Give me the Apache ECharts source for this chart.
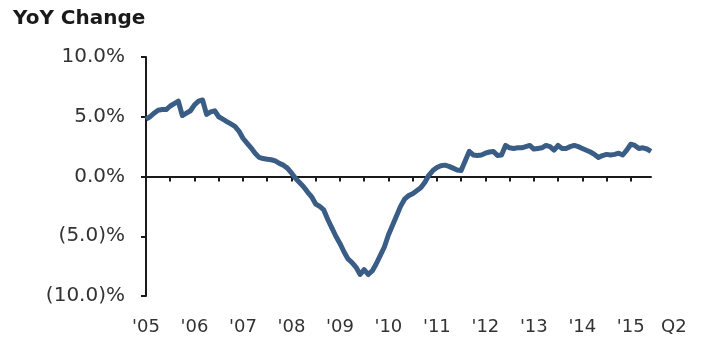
<!DOCTYPE html>
<html>
<head>
<meta charset="utf-8">
<title>YoY Change</title>
<script src="https://cdn.jsdelivr.net/npm/echarts@6/dist/echarts.min.js"></script>
<style>
  html, body { margin: 0; padding: 0; background: #fff; }
  #chart { width: 706px; height: 343px; }
</style>
</head>
<body>
<div id="chart"></div>
<script>
// year tick labels and the trailing quarter marker
var yearLabels = ["'05", "'06", "'07", "'08", "'09", "'10", "'11", "'12", "'13", "'14", "'15"];
var lastQuarter = 'Q2';
var firstYear = 2005;

// monthly YoY change (%), Jan 2005 .. Jun 2015
var yoy = [
  4.8, 5.0, 5.3, 5.55, 5.6, 5.6, 5.9, 6.1, 6.3, 5.1, 5.3, 5.5,        // 2005
  6.0, 6.3, 6.4, 5.2, 5.4, 5.5, 5.0, 4.8, 4.6, 4.4, 4.2, 3.8,         // 2006
  3.2, 2.8, 2.4, 1.95, 1.6, 1.5, 1.45, 1.4, 1.3, 1.1, 0.95, 0.7,      // 2007
  0.3, -0.15, -0.5, -0.85, -1.3, -1.7, -2.3, -2.5, -2.8, -3.6, -4.3, -5.0, // 2008
  -5.6, -6.3, -6.9, -7.2, -7.6, -8.2, -7.8, -8.2, -7.9, -7.3, -6.6, -5.9,  // 2009
  -4.9, -4.1, -3.3, -2.5, -1.9, -1.6, -1.45, -1.2, -0.95, -0.5, 0.1, 0.5,  // 2010
  0.75, 0.9, 0.95, 0.85, 0.7, 0.55, 0.5, 1.3, 2.1, 1.8, 1.75, 1.8,    // 2011
  1.95, 2.05, 2.1, 1.75, 1.8, 2.6, 2.4, 2.35, 2.4, 2.4, 2.5, 2.6,     // 2012
  2.3, 2.35, 2.4, 2.6, 2.5, 2.2, 2.6, 2.35, 2.35, 2.5, 2.6, 2.5,      // 2013
  2.35, 2.2, 2.05, 1.85, 1.6, 1.75, 1.85, 1.8, 1.85, 1.95, 1.8, 2.2,  // 2014
  2.7, 2.6, 2.35, 2.4, 2.3, 2.1                                       // 2015
];

// one category per month
var months = [];
for (var i = 0; i < yoy.length; i++) {
  var y = firstYear + Math.floor(i / 12);
  var m = (i % 12) + 1;
  months.push(y + '-' + (m < 10 ? '0' + m : m));
}

var fontFamily = 'DejaVu Sans, Verdana, sans-serif';

var chart = echarts.init(document.getElementById('chart'), null, { renderer: 'canvas' });

var option = {
  animation: false,
  title: {
    text: 'YoY Change',
    left: 8,
    top: 4,
    textStyle: { fontFamily: fontFamily, fontSize: 20, fontWeight: 'bold', color: '#1a1a1a' }
  },
  grid: { left: 146, right: 55, top: 57, bottom: 47 },
  xAxis: [
    {
      // the axis line that sits on zero, ticks every half year
      type: 'category',
      data: months,
      boundaryGap: false,
      axisLine: { onZero: true, lineStyle: { color: '#1a1a1a', width: 2 } },
      axisTick: { show: true, interval: 5, length: 5, lineStyle: { color: '#1a1a1a', width: 2 } },
      axisLabel: { show: false },
      splitLine: { show: false }
    },
    {
      // year labels along the bottom
      type: 'category',
      data: months,
      boundaryGap: false,
      position: 'bottom',
      offset: 31,
      axisLine: { show: false, onZero: false },
      axisTick: { show: false },
      axisLabel: {
        interval: 11,
        margin: 0,
        verticalAlign: 'middle',
        fontFamily: fontFamily,
        fontSize: 18,
        color: '#333',
        formatter: function (val, idx) { return yearLabels[idx / 12] || ''; }
      },
      name: lastQuarter,
      nameLocation: 'end',
      nameGap: 10,
      nameTextStyle: { fontFamily: fontFamily, fontSize: 18, color: '#333', verticalAlign: 'middle' },
      splitLine: { show: false }
    }
  ],
  yAxis: {
    type: 'value',
    min: -10,
    max: 10,
    interval: 5,
    axisLine: { show: true, lineStyle: { color: '#1a1a1a', width: 2 } },
    axisTick: { show: true, length: 5, lineStyle: { color: '#1a1a1a', width: 2 } },
    axisLabel: {
      margin: 21,
      fontFamily: fontFamily,
      fontSize: 20,
      color: '#333',
      formatter: function (v) {
        return v < 0 ? '(' + Math.abs(v).toFixed(1) + ')%' : v.toFixed(1) + '%';
      }
    },
    splitLine: { show: false }
  },
  series: [{
    type: 'line',
    xAxisIndex: 0,
    data: yoy,
    showSymbol: false,
    lineStyle: { color: '#3a5d85', width: 5, join: 'round' },
    itemStyle: { color: '#3a5d85' }
  }]
};

chart.setOption(option);
</script>
</body>
</html>
